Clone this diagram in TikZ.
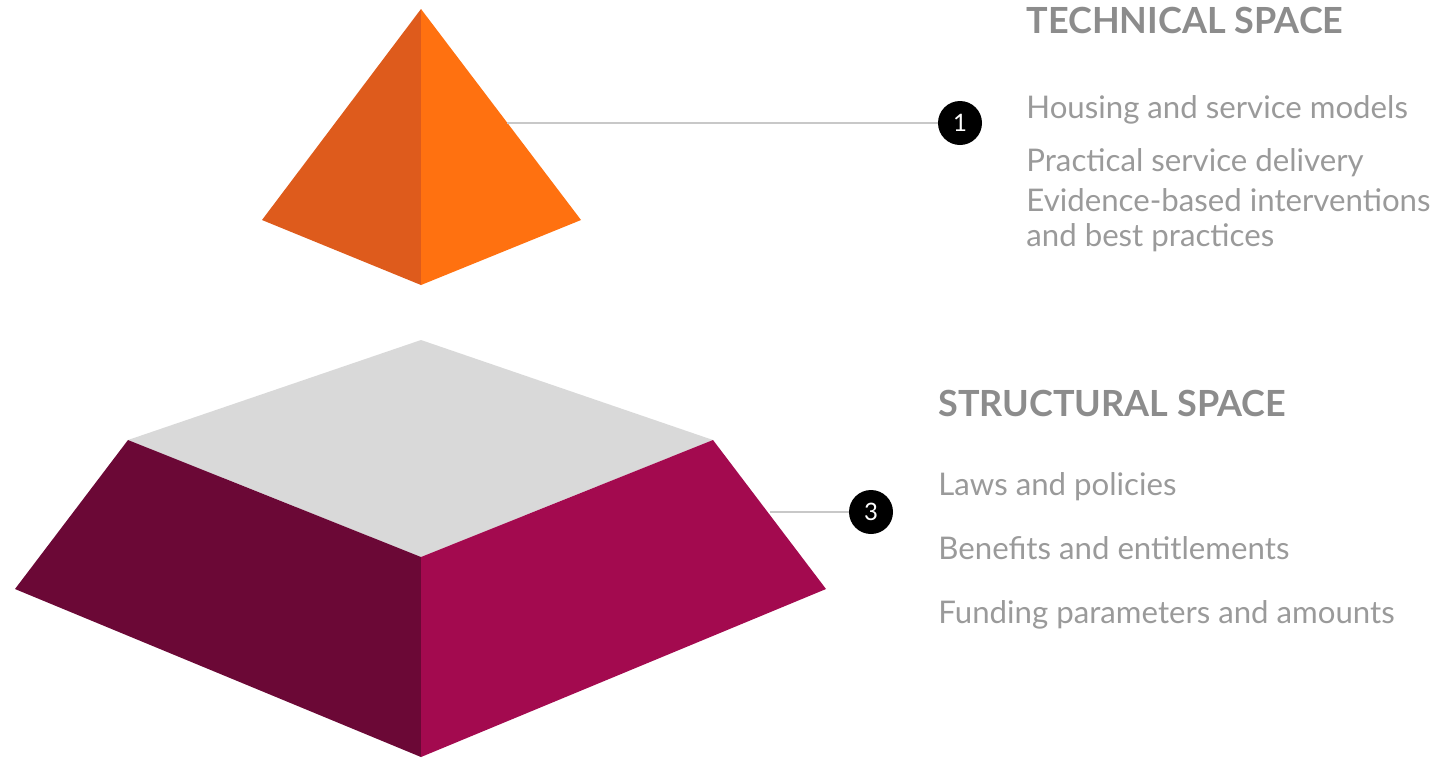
\documentclass[tikz,border=0pt]{standalone}
\usepackage{fontspec}
\setmainfont{Lato}
\definecolor{orangedark}{HTML}{DE5B1C}
\definecolor{orangelight}{HTML}{FF7110}
\definecolor{plumdark}{HTML}{6B0836}
\definecolor{plumlight}{HTML}{A30A4F}
\definecolor{topgray}{HTML}{D9D9D9}
\definecolor{leadgray}{HTML}{C8C8C8}
\definecolor{titlegray}{HTML}{8C8C8C}
\definecolor{itemgray}{HTML}{9A9A9A}
\tikzset{
  title/.style={anchor=base west, inner sep=0pt, text=titlegray, font=\fontsize{18}{21}\selectfont\bfseries},
  item/.style={anchor=base west, inner sep=0pt, text=itemgray, font=\fontsize{15.6}{18}\selectfont},
  badge/.style={circle, fill=black, text=white, minimum size=22pt, inner sep=0pt, font=\fontsize{12}{14}\selectfont},
  leader/.style={draw=leadgray, line width=1pt}
}
\begin{document}
\begin{tikzpicture}[x=0.5pt, y=-0.5pt]
  \useasboundingbox (0,0) rectangle (1454,757);
  % top pyramid
  \fill[orangedark] (421,9) -- (262,220) -- (421,285) -- cycle;
  \fill[orangelight] (421,9) -- (581,220) -- (421,285) -- cycle;
  % bottom frustum
  \fill[topgray] (421,340) -- (128,440) -- (421,557) -- (713,440) -- cycle;
  \fill[plumdark] (128,440) -- (15,589) -- (421,757) -- (421,557) -- cycle;
  \fill[plumlight] (713,440) -- (826,589) -- (421,757) -- (421,557) -- cycle;
  % leaders and badges
  \coordinate (c1) at (507,123);
  \coordinate (c3) at (770,512);
  \node[badge] (n1) at (960,123) {1};
  \node[badge] (n3) at (871,512) {3};
  \draw[leader] (c1) -- (n1.west);
  \draw[leader] (c3) -- (n3.west);
  % texts
  \node[title] (t1) at (1026,33) {TECHNICAL SPACE};
  \node[item] (a1) at (1026,118) {Housing and service models};
  \node[item] (a2) at (1026,171) {Practical service delivery};
  \node[item] (a3) at (1026,211) {Evidence-based interventions};
  \node[item] (a4) at (1026,246) {and best practices};
  \node[title] (t3) at (938,416) {STRUCTURAL SPACE};
  \node[item] (b1) at (938,495) {Laws and policies};
  \node[item] (b2) at (938,559) {Benefits and entitlements};
  \node[item] (b3) at (938,623) {Funding parameters and amounts};
\end{tikzpicture}
\end{document}
